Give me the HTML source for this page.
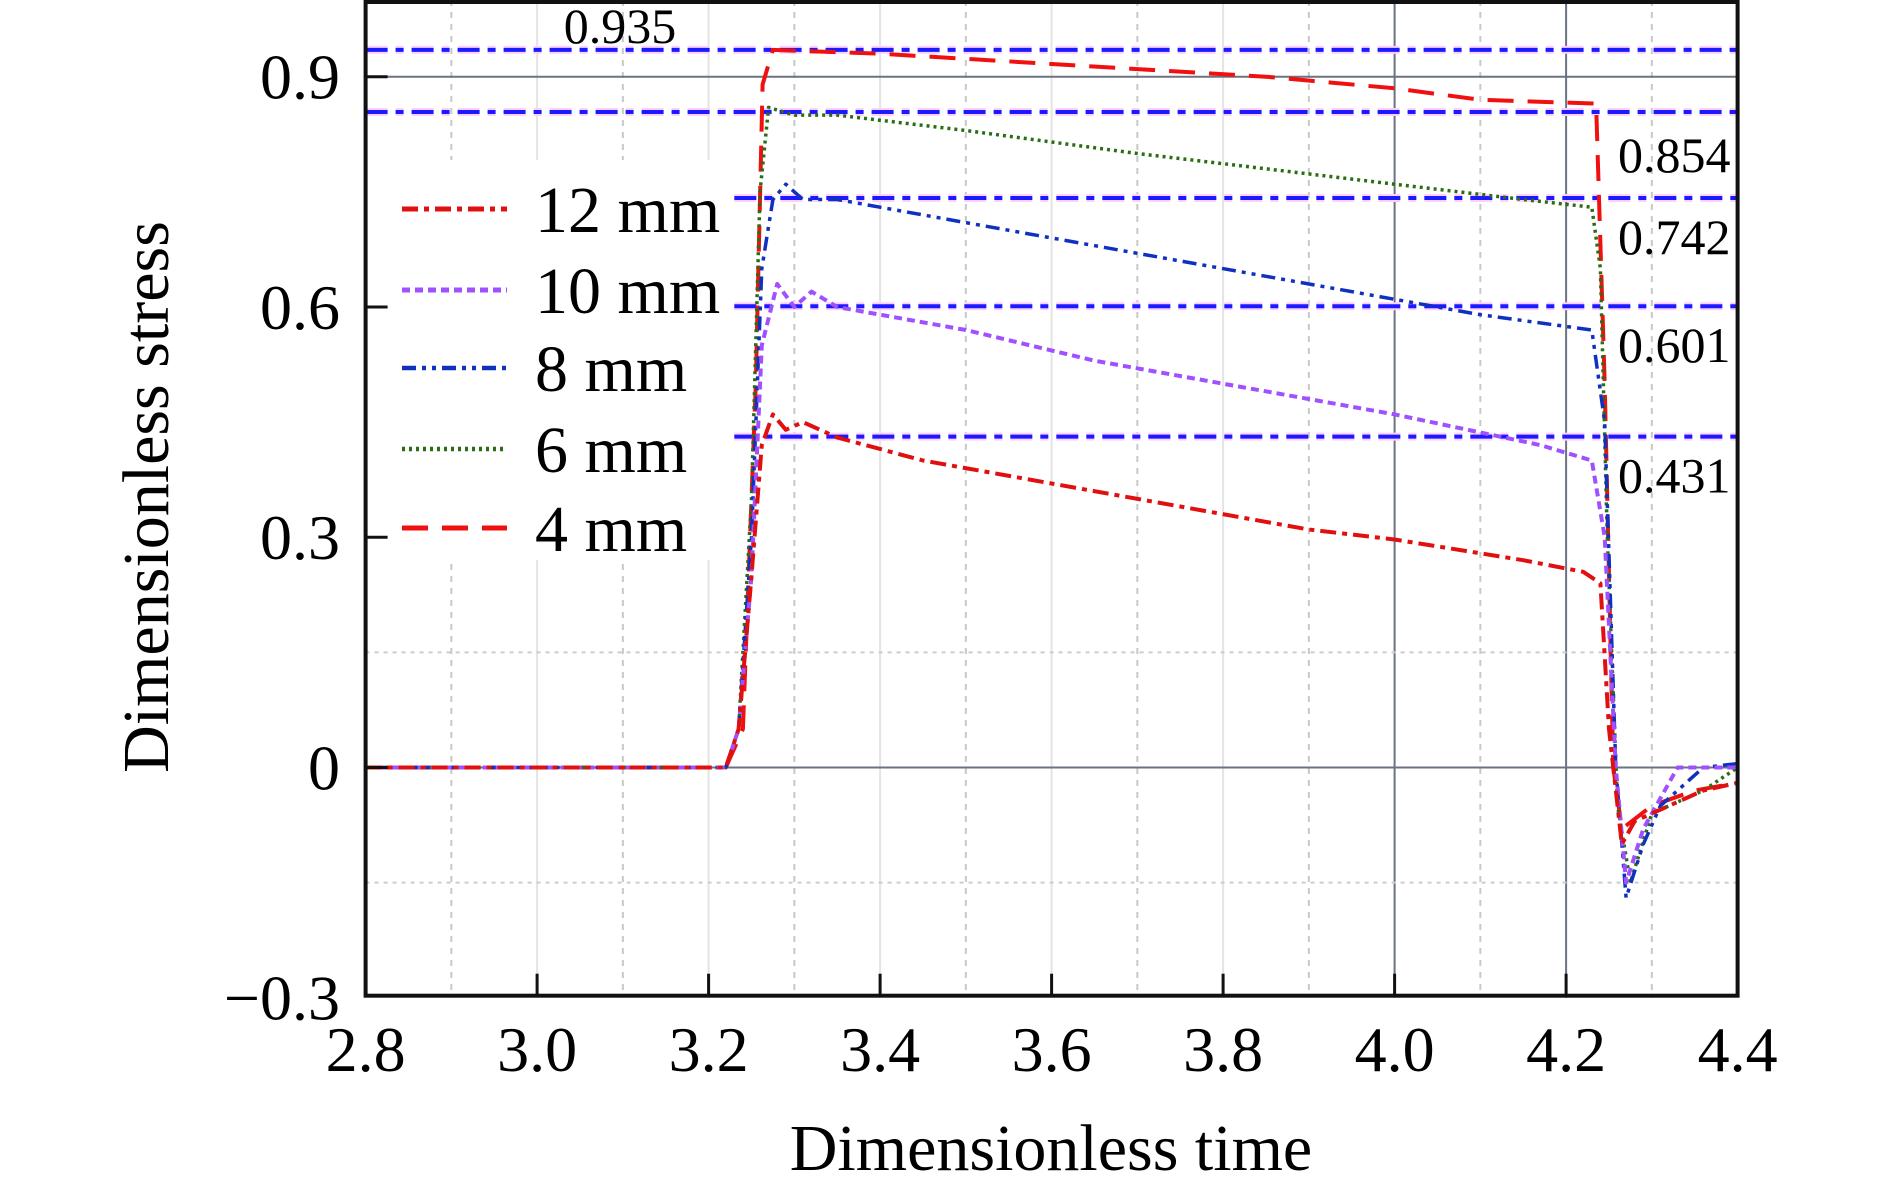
<!DOCTYPE html>
<html><head><meta charset="utf-8"><style>
html,body{margin:0;padding:0;background:#fff;}
svg{display:block;font-family:"Liberation Serif",serif;}
</style></head><body>
<svg id="chart" width="1890" height="1186" viewBox="0 0 1890 1186" xmlns="http://www.w3.org/2000/svg">
<g id="grid"></g>
<g id="refs"></g>
<g id="series"></g>
<rect x="392" y="160" width="340" height="400" fill="#fff"/>
<g id="legend"></g>
<g id="axes"></g>
<text x="0" y="0" transform="translate(168,497) rotate(-90)" text-anchor="middle" font-size="66">Dimensionless stress</text>
<text x="1051" y="1170" text-anchor="middle" font-size="66">Dimensionless time</text>
</svg>
<script>
const xTicks=[2.8,3.0,3.2,3.4,3.6,3.8,4.0,4.2,4.4];
const xTickLabels=["2.8","3.0","3.2","3.4","3.6","3.8","4.0","4.2","4.4"];
const yTicks=[-0.3,0,0.3,0.6,0.9];
const yTickLabels=["\u22120.3","0","0.3","0.6","0.9"];
const refValues=[0.935,0.854,0.742,0.601,0.431];
const refLabels=["0.935","0.854","0.742","0.601","0.431"];
const seriesNames=["12 mm","10 mm","8 mm","6 mm","4 mm"];
const t12=[2.8,3.22,3.235,3.25,3.262,3.275,3.29,3.31,3.35,3.45,3.6,3.75,3.9,4.0,4.15,4.22,4.24,4.25,4.265,4.28,4.32,4.36,4.4];
const s12=[0,0,0.05,0.25,0.42,0.46,0.44,0.45,0.43,0.40,0.37,0.34,0.31,0.297,0.27,0.255,0.24,0.05,-0.10,-0.07,-0.05,-0.03,-0.02];
const t10=[2.8,3.22,3.235,3.25,3.262,3.28,3.3,3.32,3.35,3.5,3.65,3.8,4.0,4.17,4.23,4.245,4.258,4.27,4.29,4.33,4.4];
const s10=[0,0,0.05,0.25,0.55,0.63,0.60,0.62,0.60,0.57,0.53,0.50,0.46,0.42,0.40,0.30,0.0,-0.15,-0.08,0,0];
const t8=[2.8,3.22,3.235,3.25,3.262,3.275,3.29,3.31,3.35,3.5,3.7,3.85,4.0,4.1,4.23,4.245,4.258,4.27,4.29,4.31,4.36,4.4];
const s8=[0,0,0.05,0.3,0.65,0.74,0.76,0.74,0.74,0.71,0.67,0.64,0.61,0.59,0.57,0.45,0.0,-0.17,-0.10,-0.05,0,0.005];
const t6=[2.8,3.22,3.235,3.25,3.26,3.27,3.3,3.35,3.5,3.7,3.85,4.0,4.15,4.23,4.24,4.248,4.26,4.275,4.3,4.36,4.4];
const s6=[0,0,0.05,0.35,0.75,0.86,0.85,0.85,0.83,0.80,0.78,0.76,0.74,0.73,0.65,0.3,-0.05,-0.15,-0.06,-0.03,0];
const t4=[2.8,3.22,3.24,3.255,3.263,3.275,3.4,3.55,3.7,3.85,4.0,4.1,4.235,4.245,4.255,4.265,4.3,4.35,4.4];
const s4=[0,0,0.05,0.5,0.89,0.935,0.93,0.92,0.91,0.90,0.885,0.87,0.865,0.5,0.0,-0.08,-0.05,-0.03,-0.02];

const X0=365.6,X1=1737.6,Y0=-0.3,Y1=1.0,PT=0,PB=997.7;
function xs(v){return X0+(v-2.8)/(4.4-2.8)*(X1-X0);}
function ys(v){return PB-(v-Y0)/(Y1-Y0)*(PB-PT);}
const NS="http://www.w3.org/2000/svg";
function mk(tag,attrs,parent){const e=document.createElementNS(NS,tag);for(const k in attrs)e.setAttribute(k,attrs[k]);parent.appendChild(e);return e;}
const grid=document.getElementById('grid'),refs=document.getElementById('refs'),ser=document.getElementById('series'),leg=document.getElementById('legend'),axes=document.getElementById('axes');

for(let i=0;i<16;i++){
  const v=2.8+0.1*i+0.1; if(v>=4.39)break;
  const major=Math.abs(v-4.0)<1e-6||Math.abs(v-4.2)<1e-6;
  const odd=(i%2===0);
  const l=mk('line',{x1:xs(v),x2:xs(v),y1:PT,y2:PB,stroke:major?'#6b7280':(odd?'#c8c8c8':'#e4e4e4'),'stroke-width':2,'stroke-dasharray':(major||!odd)?'none':'6 6'},grid);
  
  
}
[[0.9,'#6b7280','none'],[0,'#6b7280','none'],[0.15,'#cccccc','4 5'],[-0.15,'#cccccc','4 5']].forEach(g=>{
  const l=mk('line',{x1:X0,x2:X1,y1:ys(g[0]),y2:ys(g[0]),stroke:g[1],'stroke-width':2,'stroke-dasharray':g[2]},grid);
  
  
});

const refLabelOffset=[0,60,56,56,56];
refValues.forEach((v,i)=>{
  const xa=i<2?X0:xs(3.23);
  mk('line',{x1:xa,x2:X1,y1:ys(v),y2:ys(v),stroke:'#ffd0ff','stroke-width':8,'stroke-dasharray':'22 8 8 8'},refs);
  const l=mk('line',{x1:xa,x2:X1,y1:ys(v),y2:ys(v),stroke:'#1a1aff','stroke-width':4,'stroke-dasharray':'22 8 8 8'},refs);
  
  
  const t=mk('text',{x:i===0?620:1618,y:i===0?43:ys(v)+refLabelOffset[i],'font-size':50,'text-anchor':i===0?'middle':'start'},refs);
  t.textContent=refLabels[i];
  
  
});

const styles=[
  {c:'#e01010',d:'16 6 5 6',w:4},
  {c:'#a050ff',d:'8 5',w:4},
  {c:'#1030c0',d:'14 6 4 6 4 6',w:3.5},
  {c:'#2a6e14',d:'3 4',w:3.5},
  {c:'#f01010',d:'26 14',w:4}
];
const data=[[t12,s12],[t10,s10],[t8,s8],[t6,s6],[t4,s4]];
const order=[4,3,2,1,0];
order.forEach(i=>{
  const pts=data[i][0].map((t,k)=>xs(t).toFixed(1)+','+ys(data[i][1][k]).toFixed(1)).join(' ');
  const p=mk('polyline',{points:pts,fill:'none',stroke:styles[i].c,'stroke-width':styles[i].w,'stroke-dasharray':styles[i].d,'stroke-linejoin':'round'},ser);
  
  
});

const legY=[209,290,368,449,528];
seriesNames.forEach((n,i)=>{
  const l=mk('line',{x1:402,x2:507,y1:legY[i],y2:legY[i],stroke:styles[i].c,'stroke-width':styles[i].w+1,'stroke-dasharray':styles[i].d},leg);
  
  
  const t=mk('text',{x:535,y:legY[i]+23,'font-size':66},leg);
  t.textContent=n;
  
  
});

const fr=mk('rect',{x:X0,y:2,width:X1-X0,height:PB-2-2,fill:'none',stroke:'#111','stroke-width':4},axes);


xTicks.forEach((v,i)=>{
  if(i>0&&i<xTicks.length-1){
    const tk=mk('line',{x1:xs(v),x2:xs(v),y1:PB-2,y2:PB-24,stroke:'#111','stroke-width':3},axes);
    
    
  }
  const t=mk('text',{x:xs(v),y:1071,'text-anchor':'middle','font-size':64},axes);
  t.textContent=xTickLabels[i];
  
  
});
yTicks.forEach((v,i)=>{
  if(i>0){
    const tk=mk('line',{x1:X0,x2:X0+22,y1:ys(v),y2:ys(v),stroke:'#111','stroke-width':3},axes);
    
    
  }
  const t=mk('text',{x:340,y:ys(v)+22,'text-anchor':'end','font-size':64},axes);
  t.textContent=yTickLabels[i];
  
  
});
</script>
</body></html>
